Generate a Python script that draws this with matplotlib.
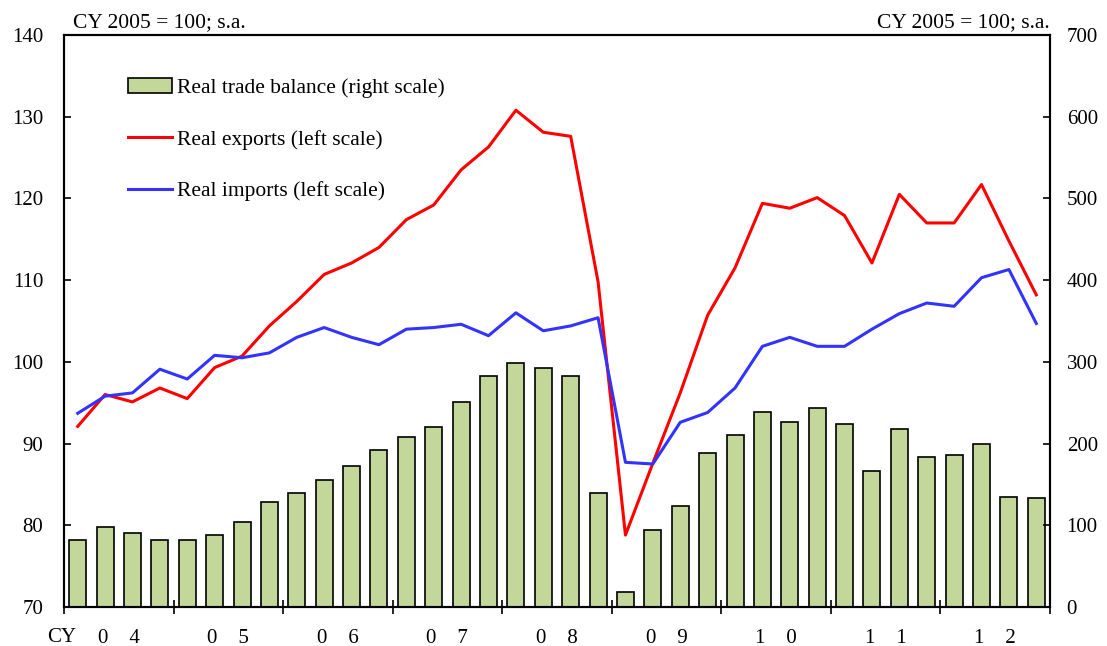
import matplotlib
matplotlib.use("Agg")
import matplotlib.pyplot as plt
import numpy as np

plt.rcParams['font.family'] = ['Liberation Serif', 'DejaVu Serif']

years = ["0    4", "0    5", "0    6", "0    7", "0    8", "0    9", "1    0", "1    1", "1    2"]

trade_balance = [82, 98, 90, 82, 82, 88, 104, 128, 139, 155, 173, 192,
                 208, 220, 251, 283, 298, 292, 283, 139, 18, 94, 124, 188,
                 210, 239, 226, 243, 224, 167, 218, 184, 186, 200, 135, 133]

real_exports = [92.1, 96.0, 95.1, 96.8, 95.5, 99.3, 100.7, 104.4, 107.4, 110.7, 112.1, 114.0,
                117.4, 119.2, 123.5, 126.3, 130.8, 128.1, 127.6, 109.8, 78.8, 87.6, 96.2, 105.7,
                111.5, 119.4, 118.8, 120.1, 117.9, 112.1, 120.5, 117.0, 117.0, 121.7, 114.8, 108.2]

real_imports = [93.7, 95.8, 96.2, 99.1, 97.9, 100.8, 100.5, 101.1, 103.0, 104.2, 103.0, 102.1,
                104.0, 104.2, 104.6, 103.2, 106.0, 103.8, 104.4, 105.4, 87.7, 87.5, 92.6, 93.8,
                96.8, 101.9, 103.0, 101.9, 101.9, 104.0, 105.9, 107.2, 106.8, 110.3, 111.3, 104.7]

labels = ["Real trade balance (right scale)",
          "Real exports (left scale)",
          "Real imports (left scale)"]

x = np.arange(len(trade_balance))

fig = plt.figure(figsize=(11.07, 6.46), dpi=100)
ax1 = fig.add_axes([0.0578, 0.0604, 0.8907, 0.8854])
ax2 = ax1.twinx()

bars = ax2.bar(x, trade_balance, width=0.62, color="#C4D79B",
               edgecolor="black", linewidth=1.2, label=labels[0])
l1, = ax1.plot(x, real_exports, color="#FF0000", lw=2.2, label=labels[1])
l2, = ax1.plot(x, real_imports, color="#3333FF", lw=2.2, label=labels[2])

ax1.set_zorder(ax2.get_zorder() + 1)
ax1.patch.set_visible(False)

ax1.set_xlim(-0.5, len(x) - 0.5)
ax1.set_ylim(70, 140)
ax2.set_ylim(0, 700)
ax1.set_yticks(np.arange(70, 141, 10))
ax2.set_yticks(np.arange(0, 701, 100))

# year boundaries as major ticks, year labels as minor ticks
ax1.set_xticks(np.arange(-0.5, len(x), 4))
ax1.set_xticklabels([])
ax1.set_xticks(np.arange(1.5, len(x), 4), minor=True)
ax1.set_xticklabels(years, minor=True)
ax1.tick_params(axis='x', which='major', direction='inout', length=9.5, width=1.2)
ax1.tick_params(axis='x', which='minor', length=0, labelsize=15, pad=16)
ax1.tick_params(axis='y', direction='in', length=5, width=1.2, labelsize=15, pad=15)
ax2.tick_params(axis='y', direction='in', length=5, width=1.2, labelsize=15, pad=12)

for ax in (ax1, ax2):
    for s in ax.spines.values():
        s.set_linewidth(1.5)

fig.text(0.066, 0.965, "CY 2005 = 100; s.a.", fontsize=15.5, ha='left', va='center')
fig.text(0.9485, 0.965, "CY 2005 = 100; s.a.", fontsize=15.5, ha='right', va='center')
fig.text(0.043, 0.013, "CY", fontsize=15, ha='left', va='center')

leg = ax1.legend([bars, l1, l2], labels, loc='upper left',
                 bbox_to_anchor=(0.045, 0.958), frameon=False, fontsize=15.5,
                 handlelength=2.05, handleheight=0.7, handletextpad=0.25,
                 labelspacing=1.45)

fig.savefig("out.png", dpi=100)
